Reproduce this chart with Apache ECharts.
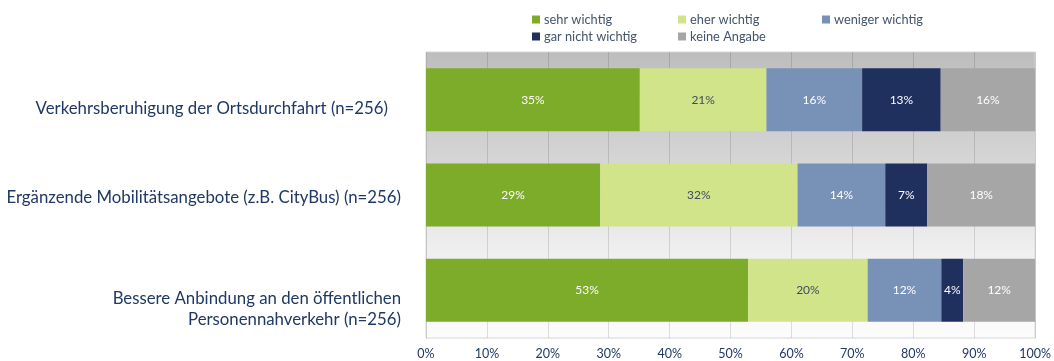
<!DOCTYPE html>
<html><head><meta charset="utf-8">
<script src="https://cdn.jsdelivr.net/npm/echarts@6/dist/echarts.min.js"></script>
<style>html,body{margin:0;padding:0;background:#fff}#c{width:1054px;height:361px}</style>
</head><body><div id="c"></div>
<script>
const categories = [
  "Verkehrsberuhigung der Ortsdurchfahrt (n=256)",
  "Ergänzende Mobilitätsangebote (z.B. CityBus) (n=256)",
  "Bessere Anbindung an den öffentlichen\nPersonennahverkehr (n=256)"
];
const seriesNames = ["sehr wichtig", "eher wichtig", "weniger wichtig", "gar nicht wichtig", "keine Angabe"];
const sehrWichtig = [35.1, 28.6, 52.9];
const eherWichtig = [20.8, 32.4, 19.6];
const wenigerWichtig = [15.7, 14.4, 12.1];
const garNichtWichtig = [12.9, 6.9, 3.6];
const keineAngabe = [15.5, 17.7, 11.8];
const xTicks = [0, 10, 20, 30, 40, 50, 60, 70, 80, 90, 100];

const colors = ["#7dab2a", "#d2e48a", "#7892b7", "#1f2f5e", "#a6a6a6"];
const labelColors = ["#ffffff", "#3f4b5e", "#ffffff", "#ffffff", "#ffffff"];
const values = [sehrWichtig, eherWichtig, wenigerWichtig, garNichtWichtig, keineAngabe];
const FONT = "Lato, 'Open Sans', sans-serif";

const legendPos = [[532, 13], [678, 13], [822, 13], [532, 30], [678, 30]];

const chart = echarts.init(document.getElementById('c'), null, {renderer: 'canvas'});
chart.setOption({
  animation: false,
  textStyle: {fontFamily: FONT},
  legend: seriesNames.map((n, i) => ({
    data: [n], left: legendPos[i][0], top: legendPos[i][1],
    itemWidth: 8, itemHeight: 8, itemGap: 4, icon: 'rect', padding: 0,
    textStyle: {fontFamily: FONT, fontSize: 12.8, color: '#44546a', padding: [0, 0, 0, -1]}
  })),
  grid: {
    left: 426, right: 16, top: 52, bottom: 23, show: true,
    borderColor: '#d6d6d6', borderWidth: 1,
    backgroundColor: {type: 'linear', x: 0, y: 0, x2: 0, y2: 1, colorStops: [
      {offset: 0, color: '#bdbdbd'}, {offset: 0.35, color: '#d3d3d3'},
      {offset: 0.68, color: '#eeeeee'}, {offset: 1, color: '#fcfcfc'}]}
  },
  xAxis: {
    type: 'value', min: 0, max: 100, interval: 10,
    axisLine: {show: false}, axisTick: {show: false},
    splitLine: {show: true, lineStyle: {color: 'rgba(0,0,0,0.12)', width: 1}},
    axisLabel: {formatter: v => xTicks.includes(v) ? v + '%' : '', color: '#1f3864', fontSize: 12.5, margin: 9, fontFamily: FONT}
  },
  yAxis: {
    type: 'category', data: categories, inverse: true,
    axisLine: {show: false}, axisTick: {show: false}, splitLine: {show: false},
    axisLabel: {
      margin: 25, color: '#1f3864', fontSize: 16.8, fontFamily: FONT, align: 'right',
      formatter: (v, i) => {
        const tag = ['a', 'b', 'c'][i];
        return v.split('\n').map(l => '{' + tag + '|' + l + '}').join('\n');
      },
      rich: {
        a: {fontSize: 16.8, color: '#1f3864', fontFamily: FONT, padding: [17, 13, 0, 0], lineHeight: 21},
        b: {fontSize: 16.8, color: '#1f3864', fontFamily: FONT, padding: [5, 0, 0, 0], lineHeight: 21},
        c: {fontSize: 16.8, color: '#1f3864', fontFamily: FONT, padding: [37, 0, 0, 0], lineHeight: 21}
      }
    }
  },
  series: seriesNames.map((n, i) => ({
    name: n, type: 'bar', stack: 'total', data: values[i],
    barCategoryGap: '34%',
    itemStyle: {color: colors[i]},
    label: {show: true, position: 'inside', formatter: p => Math.round(p.value) + '%',
      color: labelColors[i], fontSize: 12, fontFamily: FONT}
  }))
});
</script></body></html>
